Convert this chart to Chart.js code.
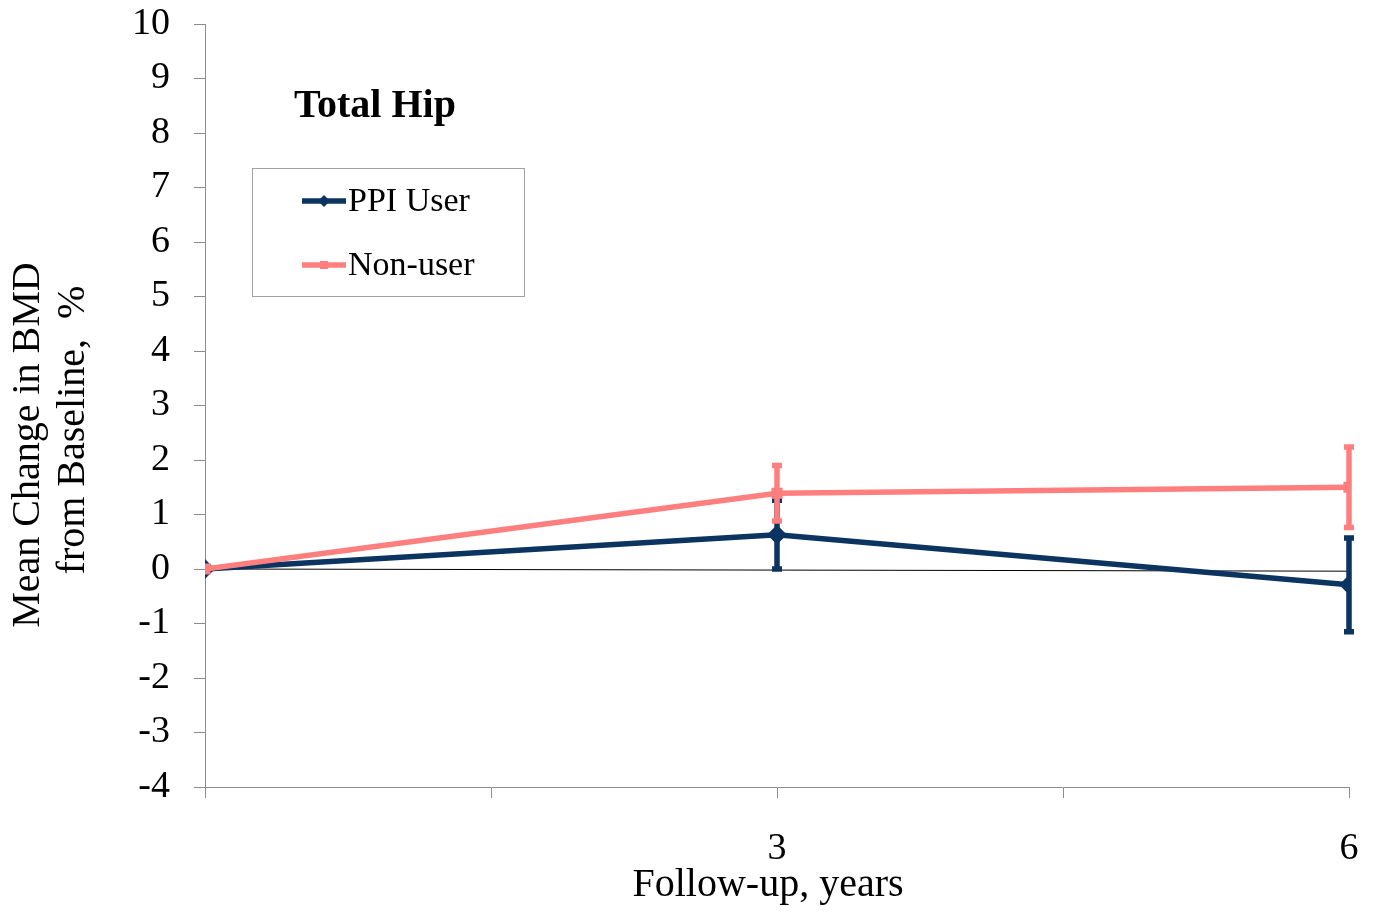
<!DOCTYPE html>
<html>
<head>
<meta charset="utf-8">
<script src="https://cdn.jsdelivr.net/npm/chart.js@4"></script>
<style>
  html, body { margin: 0; padding: 0; background: #fff; }
  #wrap { width: 1379px; height: 912px; position: relative; }
</style>
</head>
<body>
<div id="wrap"><canvas id="hipChart"></canvas></div>
<script>
// follow-up years
const years = [0, 3, 6];
// mean change in BMD, %
const ppiUser = [0, 0.63, -0.29];
const ppiErr = [0, 0.63, 0.86];
const nonUser = [0, 1.39, 1.5];
const nonErr = [0, 0.51, 0.74];
// thin reference line along zero
const refYears = [0, 6];
const refLine = [0, -0.04];
const xTickLabels = { 3: '3', 6: '6' };
const yTitle = ['Mean Change in BMD', 'from Baseline,  %'];
const xTitle = 'Follow-up, years';

const navy = '#0b3460';
const pink = '#ff7f7f';
const axisGray = '#8c8c8c';
const serif = '"Liberation Serif", "Times New Roman", serif';

function toPoints(xs, ys) {
    return xs.map((x, i) => ({ x: x, y: ys[i] }));
}

// error bars, drawn right after their own series so the stacking matches
const errorBars = {
    id: 'errorBars',
    afterDatasetDraw(chart, args) {
        const ds = chart.data.datasets[args.index];
        if (!ds.errors) return;
        const ctx = chart.ctx;
        const xs = chart.scales.x, ys = chart.scales.y;
        ctx.save();
        ctx.strokeStyle = ds.borderColor;
        ctx.lineWidth = 5.5;
        ds.data.forEach((p, i) => {
            const e = ds.errors[i];
            if (!e) return;
            const px = xs.getPixelForValue(p.x);
            const top = ys.getPixelForValue(p.y + e);
            const bot = ys.getPixelForValue(p.y - e);
            ctx.beginPath();
            ctx.moveTo(px, top);
            ctx.lineTo(px, bot);
            ctx.moveTo(px - 5, top);
            ctx.lineTo(px + 5, top);
            ctx.moveTo(px - 5, bot);
            ctx.lineTo(px + 5, bot);
            ctx.stroke();
        });
        ctx.restore();
    }
};

// axis titles, panel title and boxed legend
const panelText = {
    id: 'panelText',
    afterDraw(chart) {
        const ctx = chart.ctx;
        const a = chart.chartArea;
        ctx.save();
        ctx.fillStyle = '#000';
        ctx.textBaseline = 'middle';
        ctx.textAlign = 'center';

        // axis titles
        ctx.font = '40px ' + serif;
        ctx.fillText(xTitle, a.left + 563, 885);
        ctx.save();
        ctx.translate(28, 445);
        ctx.rotate(-Math.PI / 2);
        ctx.fillText(yTitle[0], 0, 0);
        ctx.restore();
        ctx.save();
        ctx.translate(73, 430);
        ctx.rotate(-Math.PI / 2);
        ctx.fillText(yTitle[1], 0, 0);
        ctx.restore();

        ctx.textAlign = 'left';
        ctx.font = 'bold 40px ' + serif;
        ctx.fillText('Total Hip', a.left + 89, 107);

        const bx = a.left + 47, by = 168;
        ctx.strokeStyle = '#a0a0a0';
        ctx.lineWidth = 1;
        ctx.strokeRect(bx + 0.5, by + 0.5, 272, 128);

        const items = [
            { label: 'PPI User', color: navy, marker: 'diamond', y: by + 33 },
            { label: 'Non-user', color: pink, marker: 'square', y: by + 97 }
        ];
        items.forEach(it => {
            const x0 = bx + 50, x1 = bx + 94, xm = (x0 + x1) / 2;
            ctx.strokeStyle = it.color;
            ctx.fillStyle = it.color;
            ctx.lineWidth = 5.5;
            ctx.beginPath();
            ctx.moveTo(x0, it.y);
            ctx.lineTo(x1, it.y);
            ctx.stroke();
            ctx.beginPath();
            if (it.marker === 'diamond') {
                ctx.moveTo(xm, it.y - 6);
                ctx.lineTo(xm + 6, it.y);
                ctx.lineTo(xm, it.y + 6);
                ctx.lineTo(xm - 6, it.y);
                ctx.closePath();
                ctx.fill();
            } else {
                ctx.fillRect(xm - 4, it.y - 4, 8, 8);
            }
            ctx.fillStyle = '#000';
            ctx.font = '34px ' + serif;
            ctx.fillText(it.label, x1 + 2, it.y + 1);
        });
        ctx.restore();
    }
};

const chartData = {
    datasets: [
        {
            label: 'zero',
            data: toPoints(refYears, refLine),
            borderColor: '#000',
            borderWidth: 1,
            pointRadius: 0,
            order: 3
        },
        {
            label: 'PPI User',
            data: toPoints(years, ppiUser),
            errors: ppiErr,
            borderColor: navy,
            backgroundColor: navy,
            borderWidth: 5.5,
            pointStyle: 'rectRot',
            pointRadius: 6,
            order: 2
        },
        {
            label: 'Non-user',
            data: toPoints(years, nonUser),
            errors: nonErr,
            borderColor: pink,
            backgroundColor: pink,
            borderWidth: 5.5,
            pointStyle: 'rect',
            pointRadius: 4,
            order: 1
        }
    ]
};

const chartOptions = {
    responsive: true,
    maintainAspectRatio: false,
    animation: false,
    layout: { padding: { top: 24, right: 30, bottom: 0, left: 0 } },
    plugins: { legend: { display: false }, tooltip: { enabled: false } },
    scales: {
        x: {
            type: 'linear',
            min: 0,
            max: 6,
            border: { color: axisGray, width: 1 },
            grid: { drawOnChartArea: false, drawTicks: true, tickLength: 11, color: axisGray },
            ticks: {
                stepSize: 1.5,
                autoSkip: false,
                maxRotation: 0,
                padding: 28,
                color: '#000',
                font: { family: serif, size: 38 },
                callback: v => xTickLabels[v] || ''
            },
            afterFit: s => {
                s.height = 125;
                s.paddingLeft = 0;
                s.paddingRight = 0;
            }
        },
        y: {
            min: -4,
            max: 10,
            border: { color: axisGray, width: 1 },
            grid: { drawOnChartArea: false, drawTicks: true, tickLength: 11, color: axisGray },
            ticks: {
                stepSize: 1,
                padding: 24,
                color: '#000',
                font: { family: serif, size: 38 }
            },
            afterFit: s => {
                s.width = 205;
                s.paddingTop = 0;
                s.paddingBottom = 0;
            }
        }
    }
};

new Chart(document.getElementById('hipChart').getContext('2d'), {
    type: 'line',
    data: chartData,
    options: chartOptions,
    plugins: [errorBars, panelText]
});
</script>
</body>
</html>
